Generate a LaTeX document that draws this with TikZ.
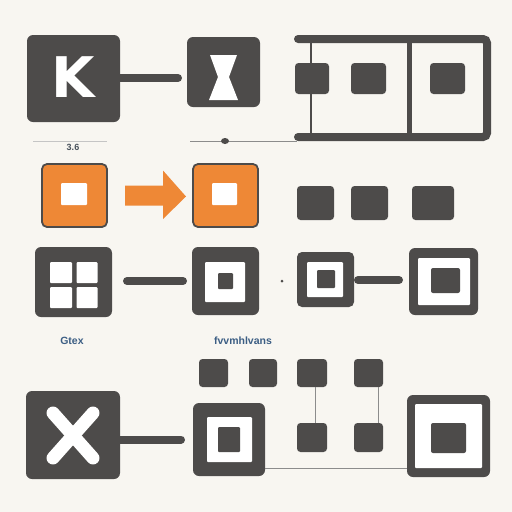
\documentclass[tikz,border=0pt]{standalone}
\usepackage{fontspec}
\usetikzlibrary{shapes.geometric}
\newfontfamily\heavyfont{DejaVu Sans}
\newfontfamily\labfont{Liberation Sans}
\definecolor{dk}{HTML}{4D4B4A}
\definecolor{orng}{HTML}{EE8836}
\definecolor{bgc}{HTML}{F8F6F1}
\definecolor{labc}{HTML}{3C5E84}
\definecolor{thinc}{HTML}{8C8C8C}
\begin{document}
\begin{tikzpicture}[x=1pt,y=-1pt,
  every node/.style={inner sep=0pt, outer sep=0pt},
  sz/.style 2 args={minimum width=#1pt, minimum height=#2pt},
  bigbox/.style={fill=dk, rounded corners=6pt},
  smallsq/.style={fill=dk, rounded corners=3.5pt},
  whitesq/.style={fill=white, rounded corners=1pt},
  obox/.style={fill=orng, draw=dk, line width=1.8pt, rounded corners=5pt},
  bar/.style={draw=dk, line width=8pt, line cap=round},
  thinline/.style={draw=thinc, line width=0.8pt},
  lab/.style={text=labc, font=\labfont\bfseries\fontsize{10.5}{10.5}\selectfont}
]
\fill[bgc] (0,0) rectangle (512,512);
\useasboundingbox (0,0) rectangle (512,512);

% ---------- Row 1 ----------
\node[bigbox, sz={93}{87}] (K) at (73.5,78.5) {};
\node[text=white, font=\heavyfont\bfseries\fontsize{56}{56}\selectfont] (Kt) at (73,77) {K};
\node[bigbox, sz={73}{70}] (S) at (223.5,72) {};
\fill[white] (210,55) -- (237,55) -- (229,77) -- (238,100) -- (209,100) -- (218,77) -- cycle;
\draw[bar, shorten >=9pt] (K.east |- S) ++(0,6) -- ([yshift=-6pt]S.west);

% frame
\draw[draw=dk, line width=8pt, line cap=round, rounded corners=4pt]
  (298,39) -- (487,39) -- (487,137) -- (298,137);
\draw[draw=dk, line width=5pt] (409,39) -- (409,137);
\draw[draw=dk, line width=1.5pt] (311,39) -- (311,137);
\node[smallsq, sz={34}{31}] (f1) at (312,78.5) {};
\node[smallsq, sz={35}{31}] (f2) at (368.5,78.5) {};
\node[smallsq, sz={35}{31}] (f3) at (447.5,78.5) {};

% small lines under row 1
\coordinate (la) at (33,141);
\coordinate (lb) at (107,141);
\draw[draw=thinc!50, line width=0.6pt] (la) -- (lb);
\node[lab, text=dk!70!labc, font=\labfont\bfseries\fontsize{9}{9}\selectfont] (l36) at (73,147) {3.6};
\coordinate (ma) at (190,141);
\coordinate (mb) at (297,141);
\draw[thinline] (ma) -- (mb);
\node[fill=dk, ellipse, sz={8}{6}] (blob) at (225,141) {};

% ---------- Row 2 ----------
\node[obox, sz={65}{63}] (o1) at (74.5,195.5) {};
\node[whitesq, sz={26}{22}] (o1i) at (74,194) {};
\node[obox, sz={65}{63}] (o2) at (225.5,195.5) {};
\node[whitesq, sz={25}{22}] (o2i) at (224.5,194) {};
\path (o1.east) ++(18,0) coordinate (ar0);
\fill[orng] (ar0) ++(0,-10) -- ++(38,0) -- ++(0,-15) -- ([xshift=-7pt,yshift=-1pt]o2.west)
  -- (163,219) -- (163,205.5) -- (125,205.5) -- cycle;
\node[smallsq, sz={37}{34}] (r1) at (315.5,203) {};
\node[smallsq, sz={37}{34}] (r2) at (369.5,203) {};
\node[smallsq, sz={42}{34}] (r3) at (433,203) {};

% ---------- Row 3 ----------
\node[bigbox, sz={77}{70}] (g1) at (73.5,282) {};
\node[whitesq, sz={22}{21}] (g1a) at (61,272.5) {};
\node[whitesq, sz={21}{21}] (g1b) at (87,272.5) {};
\node[whitesq, sz={22}{21}] (g1c) at (61,297.5) {};
\node[whitesq, sz={21}{21}] (g1d) at (87,297.5) {};
\node[bigbox, sz={67}{68}] (b2) at (225.5,281) {};
\node[whitesq, sz={40}{40}] (b2w) at (225,282) {};
\node[fill=dk, rounded corners=1pt, sz={15}{16}] (b2d) at (225.5,281) {};
\draw[bar, shorten <=15pt, shorten >=9pt] (g1.east |- b2) -- (b2.west);
\node[fill=dk, circle, sz={3}{3}] (dot) at (282,281) {};
\node[bigbox, rounded corners=5pt, sz={57}{55}] (b3) at (325.5,279.5) {};
\node[whitesq, sz={36}{35}] (b3w) at (325,279.5) {};
\node[fill=dk, rounded corners=1pt, sz={18}{18}] (b3d) at (326,279) {};
\node[bigbox, sz={69}{67}] (b4) at (443.5,281.5) {};
\node[whitesq, sz={52}{47}] (b4w) at (444,281.5) {};
\node[fill=dk, rounded corners=2pt, sz={29}{25}] (b4d) at (445.5,280.5) {};
\draw[bar, shorten <=4pt, shorten >=10pt] (b3.east |- 0,280) -- (b4.west |- 0,280);

\node[lab] (gtex) at (72,341) {Gtex};
\node[lab] (fvv) at (243,341) {fvvmhlvans};

% ---------- Row 4 ----------
\node[smallsq, sz={29}{28}] (t1) at (213.5,373) {};
\node[smallsq, sz={28}{28}] (t2) at (263,373) {};
\node[smallsq, sz={30}{28}] (t3) at (312,373) {};
\node[smallsq, sz={29}{28}] (t4) at (368.5,373) {};
\node[bigbox, sz={94}{88}] (X) at (73,435) {};
\draw[white, line width=13pt, line cap=round] (53,413) -- (93,458);
\draw[white, line width=13pt, line cap=round] (93,413) -- (53,458);
\node[bigbox, sz={72}{73}] (c2) at (229,439.5) {};
\node[whitesq, sz={45}{45}] (c2w) at (229.5,439.5) {};
\node[fill=dk, rounded corners=1pt, sz={22}{25}] (c2d) at (229,439.5) {};
\draw[bar, shorten >=12pt] (X.east |- c2) -- (c2.west);
\node[smallsq, sz={30}{29}] (u1) at (312,437.5) {};
\node[smallsq, sz={29}{29}] (u2) at (368.5,437.5) {};
\draw[thinline] ([xshift=3pt]t3.south) -- ([xshift=3pt]u1.north);
\draw[thinline] ([xshift=10pt]t4.south) -- ([xshift=10pt]u2.north);
\node[bigbox, sz={83}{82}] (c4) at (448.5,436) {};
\node[whitesq, sz={67}{64}] (c4w) at (448.5,436) {};
\node[fill=dk, rounded corners=2pt, sz={35}{30}] (c4d) at (448.5,438) {};
\draw[thinline] (c2.east |- 0,468) -- (c4.west |- 0,468);
\end{tikzpicture}
\end{document}
